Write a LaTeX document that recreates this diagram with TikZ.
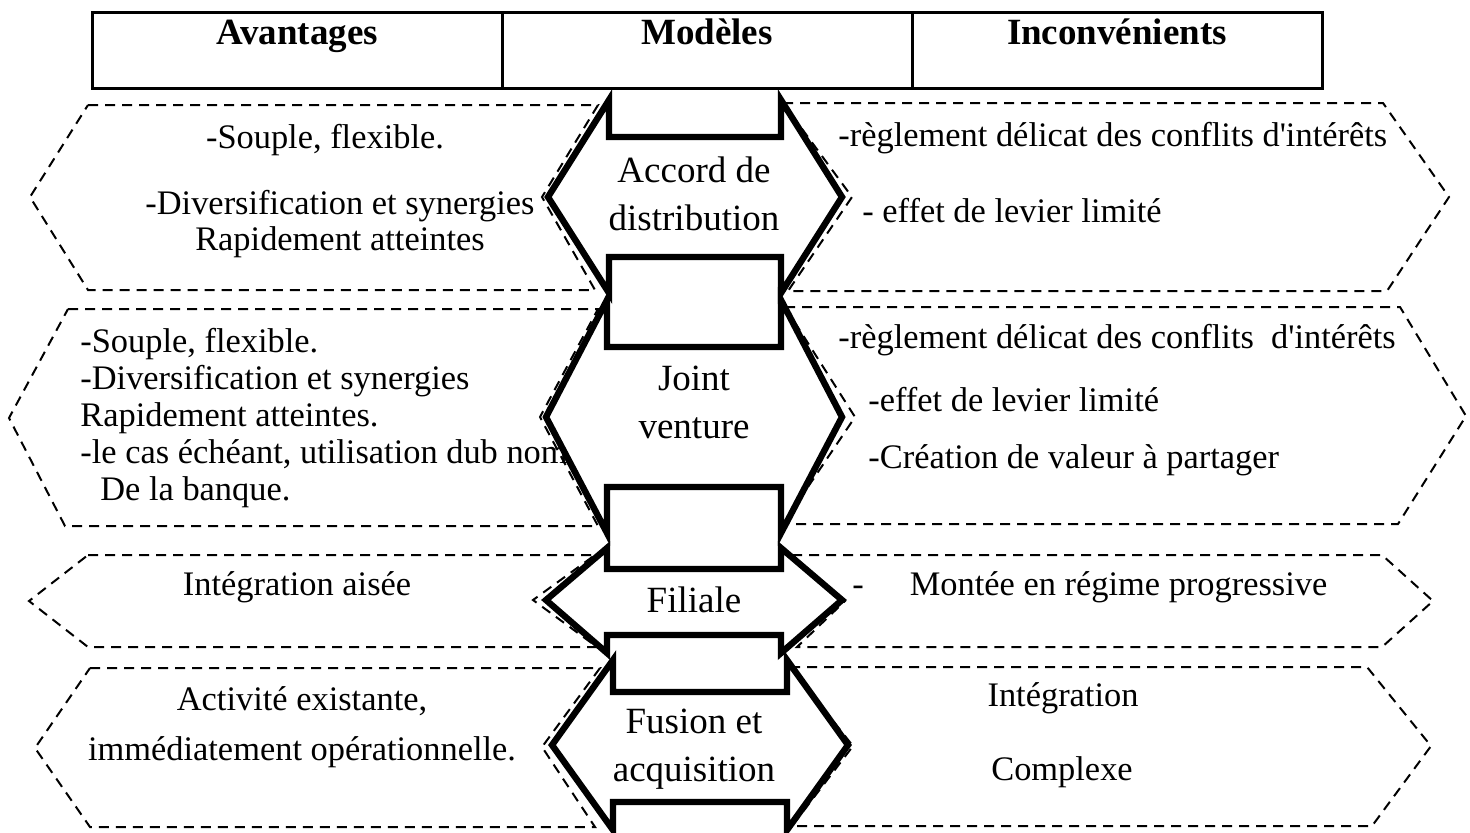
\documentclass[tikz,border=0pt]{standalone}
\usepackage{fontspec}
\setmainfont{Liberation Serif}[Ligatures=TeXOff]
\usetikzlibrary{positioning}

\begin{document}
\begin{tikzpicture}[
	% One unit is one pixel of the page, y runs downwards.
	x=0.5pt, y=-0.5pt
	]
	% Styles used all over the table.
	\tikzset{
		cell/.style={draw, rectangle, line width=1.5pt, minimum width=205pt, minimum height=38pt, outer sep=0pt, inner sep=0pt},
		head/.style={font=\fontsize{18.5}{22}\selectfont\bfseries, inner sep=0pt, anchor=base},
		model/.style={line width=3.2pt},
		chevron/.style={line width=1pt, dash pattern=on 5pt off 3.5pt},
		txt/.style={font=\fontsize{17.2}{18.4}\selectfont, inner sep=0pt},
		modeltxt/.style={font=\fontsize{18.5}{24}\selectfont, align=center, inner sep=0pt}
	}
	\clip (0,0) rectangle (1470,832);
	
	% === HEADER ===
	\node[cell] (adv) at (297,50) {};
	\node[cell, right=0pt of adv] (mod) {};
	\node[cell, right=0pt of mod] (inc) {};
	\node[head] (advtitle) at ([yshift=-16pt]adv.north) {Avantages};
	\node[head] (modtitle) at ([yshift=-16pt]mod.north) {Modèles};
	\node[head] (inctitle) at ([yshift=-16pt]inc.north) {Inconvénients};
	
	% === DASHED CHEVRONS ===
	% Left side (advantages), pointing left
	\draw[chevron] (88,105) -- (598,105) -- (542,197) -- (595,290) -- (88,290) -- (30,197) -- cycle;
	\draw[chevron] (68,309) -- (598,309) -- (540,417) -- (598,526) -- (65,526) -- (9,418) -- cycle;
	\draw[chevron] (88,555) -- (595,555) -- (533,600) -- (597,647) -- (88,647) -- (29,601) -- cycle;
	\draw[chevron] (90,668) -- (600,668) -- (542,747) -- (595,827) -- (90,827) -- (35,748) -- cycle;
	% Right side (drawbacks), pointing right
	\draw[chevron] (783,103) -- (1383,103) -- (1449,197) -- (1387,291) -- (788,291) -- (852,197) -- cycle;
	\draw[chevron] (785,307) -- (1400,307) -- (1466,416) -- (1398,524) -- (783,524) -- (855,417) -- cycle;
	\draw[chevron] (792,555) -- (1382,555) -- (1433,601) -- (1382,647) -- (797,647) -- (845,601) -- cycle;
	\draw[chevron] (790,667) -- (1367,667) -- (1431,746) -- (1372,826) -- (792,826) -- (853,746) -- cycle;
	
	% === MODEL ARROWS ===
	% left x / right x / head top / shaft top / middle / shaft bottom / head bottom
	\foreach \l/\r/\t/\s/\m/\u/\b in {609/781/100/137/197/257/293, 607/781/300/347/417/487/533, 607/781/548/569/600/635/653, 613/787/660/692/745/802/830}
		\draw[model] (\l,\t) -- (\l,\s) -- (\r,\s) -- (\r,\t) -- (\r+61,\m) -- (\r,\b) -- (\r,\u) -- (\l,\u) -- (\l,\b) -- (\l-61,\m) -- cycle;
	
	\node[modeltxt] (accord) at (694,194) {Accord de\\distribution};
	\node[modeltxt] (joint) at (694,402) {Joint\\venture};
	\node[modeltxt] (filiale) at (694,600) {Filiale};
	\node[modeltxt] (fusion) at (694,749) {Fusion et\\acquisition};
	
	% === ADVANTAGES ===
	\node[txt] (souple1) at (325,140) {-Souple, flexible.};
	\node[txt, align=center] (divers1) at (340,224) {-Diversification et synergies\\Rapidement atteintes};
	\node[txt, align=left, anchor=west] (souple2) at (80,418) {-Souple, flexible.\\-Diversification et synergies\\Rapidement atteintes.\\-le cas échéant, utilisation dub nom\\\hspace*{10pt}De la banque.};
	\node[txt] (integ3) at (297,587) {Intégration aisée};
	\node[txt, align=center] (activ4) at (302,727) {Activité existante,\\[6.6pt]immédiatement opérationnelle.};
	
	% === DRAWBACKS ===
	\node[txt, anchor=west] (regl1) at (838,138) {-règlement délicat des conflits d'intérêts};
	\node[txt, anchor=west] (levier1) at (862,211) {- effet de levier limité};
	\node[txt, anchor=west] (regl2) at (838,340) {-règlement délicat des conflits\ \ d'intérêts};
	\node[txt, anchor=west] (levier2) at (868,400) {-effet de levier limité};
	\node[txt, anchor=west] (valeur2) at (868,460) {-Création de valeur à partager};
	\node[txt, anchor=west] (montee3) at (852,587) {-\hspace{23pt}Montée en régime progressive};
	\node[txt] (integ4) at (1063,698) {Intégration};
	\node[txt] (complexe4) at (1062,772) {Complexe};
\end{tikzpicture}
\end{document}
